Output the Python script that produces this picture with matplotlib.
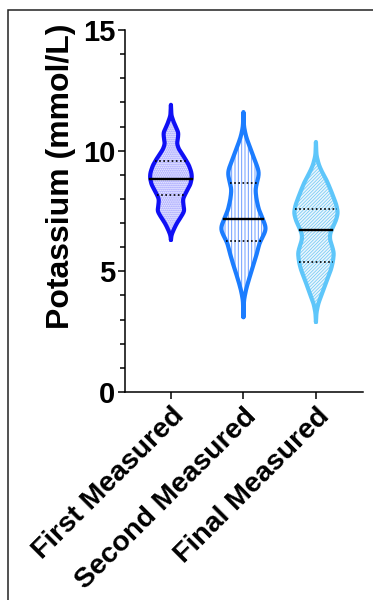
import numpy as np
import matplotlib
matplotlib.use("Agg")
import matplotlib.pyplot as plt
from matplotlib.patches import Rectangle
from matplotlib.transforms import ScaledTranslation

plt.rcParams['font.family'] = ['Liberation Sans', 'DejaVu Sans']
plt.rcParams['font.weight'] = 'bold'

# ---------------- data ----------------
categories = ["First Measured", "Second Measured", "Final Measured"]

# density profiles: potassium level -> relative violin width
first_levels = [11.90, 11.45, 11.10, 10.75, 10.50, 10.30, 10.05, 9.75, 9.40, 9.10, 8.90,
                8.60, 8.30, 8.00, 7.75, 7.50, 7.25, 7.00, 6.75, 6.50, 6.30]
first_density = [0, 1, 7, 15, 14, 12, 16, 26, 36, 41, 42,
                 39, 31, 24, 25, 27, 20, 12, 6, 1, 0]

second_levels = [11.60, 11.00, 10.60, 10.30, 10.03, 9.70, 9.32, 9.12, 8.90, 8.60, 8.37,
                 8.00, 7.54, 7.20, 6.90, 6.71, 6.40, 6.17, 5.90, 5.60, 5.25, 4.93,
                 4.60, 4.23, 3.80, 3.10]
second_density = [0, 1, 5, 10, 15, 21, 28, 31, 30, 26, 24,
                  26, 31, 38, 44, 45, 38, 32, 29, 25, 20, 15,
                  10, 5, 1, 0]

final_levels = [10.36, 9.80, 9.40, 9.08, 8.79, 8.40, 8.08, 7.75, 7.42, 7.10, 6.80,
                6.55, 6.30, 6.00, 5.76, 5.40, 5.06, 4.65, 4.23, 3.90, 3.69, 3.30, 2.90]
final_density = [0, 1, 6, 13, 21, 29, 35, 41, 44, 40, 33,
                 28, 28, 33, 36, 34, 30, 22, 15, 9, 5, 1, 0]

medians = [8.83, 7.17, 6.71]
q1 = [8.16, 6.26, 5.39]
q3 = [9.57, 8.66, 7.58]

# ---------------- styles ----------------
edge_colors = ['#1010f5', '#1c7dff', '#5ec6fa']
face_colors = ['#eeeeff', '#ffffff', '#eaf6fd']
hatch_colors = ['#9494ff', '#6c9cff', '#74c9f5']
hatches = ['........', '|||||', '//////////']
hatch_lw = [0.9, 0.7, 0.55]
MAXW = 0.31  # half-width (category units) of the widest violin

fig = plt.figure(figsize=(3.73, 6.0), dpi=100)
ax = fig.add_axes([0.335, 0.3467, 0.638, 0.6033])

profiles = [(first_levels, first_density), (second_levels, second_density),
            (final_levels, final_density)]
global_max = max(max(d) for _, d in profiles)

for i, (lev, dens) in enumerate(profiles):
    lev = np.asarray(lev, float)
    dens = np.asarray(dens, float)
    order = np.argsort(lev)
    lev, dens = lev[order], dens[order]
    yy = np.linspace(lev[0], lev[-1], 400)
    hw = np.interp(yy, lev, dens)
    k = np.exp(-0.5 * (np.arange(-12, 13) / 5.0) ** 2)
    k /= k.sum()
    hw = np.convolve(np.pad(hw, 12, mode='edge'), k, mode='valid')
    hw[0] = hw[-1] = 0
    hw = hw / global_max * MAXW

    plt.rcParams['hatch.linewidth'] = hatch_lw[i]
    ax.fill_betweenx(yy, i - hw, i + hw, facecolor=face_colors[i],
                     edgecolor=hatch_colors[i], hatch=hatches[i], linewidth=0, zorder=2)
    xs = np.concatenate([i + hw, (i - hw)[::-1]])
    ys = np.concatenate([yy, yy[::-1]])
    ax.plot(xs, ys, color=edge_colors[i], lw=3.0, solid_joinstyle='round',
            solid_capstyle='round', zorder=3)

    def halfw(v):
        return np.interp(v, yy, hw)
    w = halfw(medians[i])
    ax.plot([i - w, i + w], [medians[i]] * 2, color='black', lw=1.7, zorder=4)
    for q in (q1[i], q3[i]):
        w = halfw(q)
        ax.plot([i - w, i + w], [q, q], color='black', lw=1.2,
                linestyle=(0, (1, 1.5)), zorder=4)

ax.set_ylim(0, 15)
ax.set_xlim(-0.634, 2.648)
ax.set_yticks([0, 5, 10, 15])
ax.set_yticks(np.arange(0, 16, 1), minor=True)
ax.set_xticks(range(3))
ax.set_xticklabels(categories, rotation=45, ha='right', rotation_mode='anchor',
                   fontsize=20.5, fontweight='bold')
off = ScaledTranslation(-7 / 100, -1 / 100, fig.dpi_scale_trans)
for lbl in ax.get_xticklabels():
    lbl.set_transform(lbl.get_transform() + off)
ax.tick_params(axis='y', labelsize=21, width=1.1, length=5, pad=2)
ax.tick_params(axis='y', which='minor', width=1.1, length=3.5)
ax.tick_params(axis='x', width=1.1, length=5, pad=3)
for lbl in ax.get_yticklabels():
    lbl.set_fontweight('bold')
ax.set_ylabel("Potassium (mmol/L)", fontsize=23, fontweight='bold')
ax.yaxis.set_label_coords(-0.205, 0.597)
for s in ['top', 'right']:
    ax.spines[s].set_visible(False)
for s in ['left', 'bottom']:
    ax.spines[s].set_linewidth(1.1)

# outer frame of the screenshot
fig.patches.append(Rectangle((8 / 373, -0.1), 2, 0.1 + (1 - 10 / 600),
                             transform=fig.transFigure, fill=False,
                             edgecolor='#222222', lw=1.1))

fig.savefig("out.png", dpi=100)
